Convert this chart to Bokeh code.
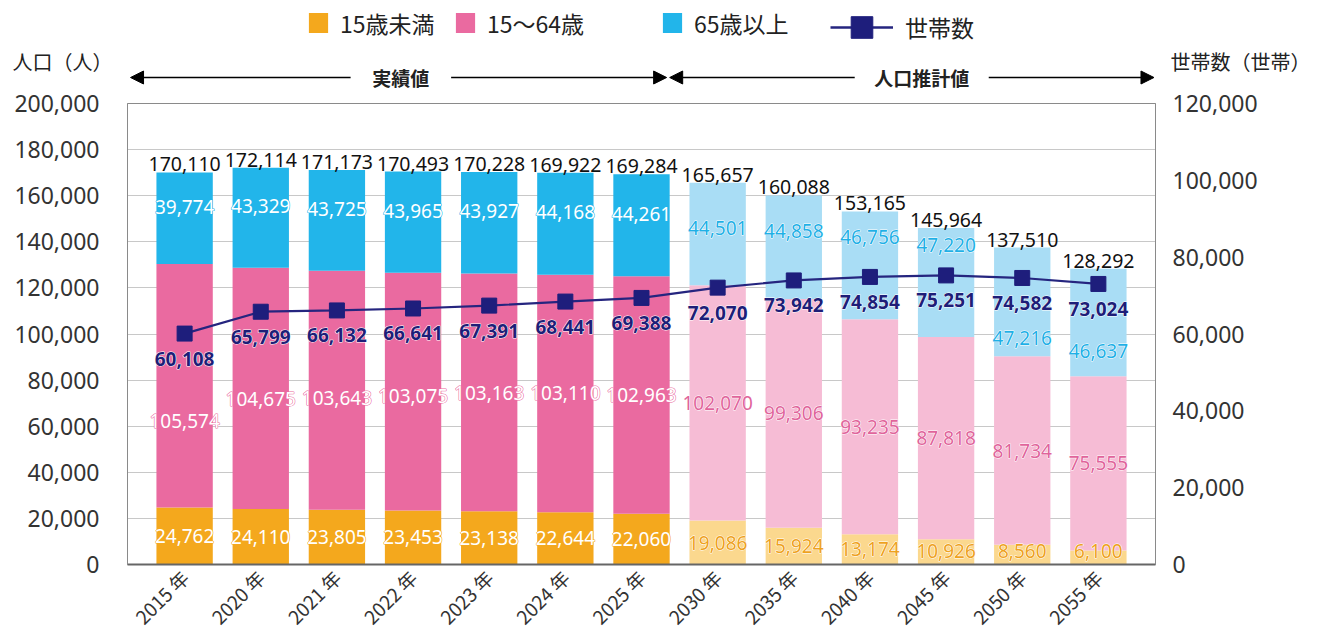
import math
from bokeh.plotting import figure
from bokeh.layouts import column
from bokeh.models import (Range1d, LinearAxis, FixedTicker, NumeralTickFormatter,
                          ColumnDataSource, Label, Arrow, NormalHead, Legend, LegendItem)
from bokeh.core.properties import value
from bokeh.embed import file_html
from bokeh.resources import INLINE

# ---------------- data ----------------
years = ["2015", "2020", "2021", "2022", "2023", "2024", "2025",
         "2030", "2035", "2040", "2045", "2050", "2055"]
under15 = [24762, 24110, 23805, 23453, 23138, 22644, 22060, 19086, 15924, 13174, 10926, 8560, 6100]
age15_64 = [105574, 104675, 103643, 103075, 103163, 103110, 102963, 102070, 99306, 93235, 87818, 81734, 75555]
over65 = [39774, 43329, 43725, 43965, 43927, 44168, 44261, 44501, 44858, 46756, 47220, 47216, 46637]
totals = [170110, 172114, 171173, 170493, 170228, 169922, 169284, 165657, 160088, 153165, 145964, 137510, 128292]
households = [60108, 65799, 66132, 66641, 67391, 68441, 69388, 72070, 73942, 74854, 75251, 74582, 73024]
n_actual = 7  # first 7 are actual values, rest are projections

series_names = ["15歳未満", "15～64歳", "65歳以上", "世帯数"]
left_title = "人口（人）"
right_title = "世帯数（世帯）"
actual_label = "実績値"
proj_label = "人口推計値"

# ---------------- styles ----------------
FONT = "Noto Sans CJK JP"
NUMFONT = "Noto Sans"
C_ACT = ["#F4A81D", "#EA6AA0", "#22B5EA"]
C_PRJ = ["#FBD88E", "#F6BCD5", "#A9DDF5"]
C_PRJ_TXT = ["#EEA21E", "#E0649B", "#1FB0E6"]
NAVY = "#25257F"

N = len(years)
xs = list(range(N))
is_act = [i < n_actual for i in xs]

LMAX = 200000
RMAX = 120000
K = LMAX / RMAX

W = 1325
TOP_H = 91
OVERLAP = 20
MAIN_H = 641 - TOP_H + OVERLAP
BL, BR, BT, BB = 127, 170, 12 + OVERLAP, 76
X0, X1 = -0.75, N - 0.25
PX_PER_X = (W - BL - BR) / (X1 - X0)

# =============== main chart ===============
p = figure(width=W, height=MAIN_H, output_backend="svg", toolbar_location=None,
           x_range=Range1d(X0, X1), y_range=Range1d(0, LMAX),
           min_border_left=BL, min_border_right=BR, min_border_top=BT,
           min_border_bottom=BB, tools="")
p.frame_align = False
p.margin = (-OVERLAP, 0, 0, 0)
p.extra_y_ranges = {"hh": Range1d(0, RMAX)}
p.background_fill_color = "white"
p.border_fill_alpha = 0
p.outline_line_color = "#8a8a8a"
p.outline_line_width = 1

# bars
b0 = [0] * N
b1 = under15[:]
b2 = [a + b for a, b in zip(under15, age15_64)]
b3 = [a + b for a, b in zip(b2, over65)]
segs = [(b0, b1), (b1, b2), (b2, b3)]
for k, (lo, hi) in enumerate(segs):
    cols = [C_ACT[k] if a else C_PRJ[k] for a in is_act]
    src = ColumnDataSource(dict(x=xs, bottom=lo, top=hi, color=cols))
    p.vbar(x="x", bottom="bottom", top="top", width=0.74, fill_color="color",
           line_color=None, source=src)

# household line
hsrc = ColumnDataSource(dict(x=xs, y=households))
p.line("x", "y", source=hsrc, y_range_name="hh", line_color=NAVY, line_width=2.2)
p.scatter("x", "y", source=hsrc, y_range_name="hh", marker="square", size=15,
          fill_color="#1E1E7C", line_color="#1E1E7C")

# label positions (derived from data)
fmt = lambda v: f"{v:,}"
hh_left = [h * K for h in households]

lab_x, lab_y, lab_t, lab_c, lab_o = [], [], [], [], []
for i in xs:
    act = is_act[i]
    lab_x.append(i); lab_y.append(max(under15[i] / 2, 6000)); lab_t.append(fmt(under15[i]))
    lab_c.append("white" if act else C_PRJ_TXT[0]); lab_o.append(C_ACT[0] if act else "white")
    mid = b1[i] + age15_64[i] / 2
    lab_x.append(i); lab_y.append(min(mid, hh_left[i] - 38000)); lab_t.append(fmt(age15_64[i]))
    lab_c.append("white" if act else C_PRJ_TXT[1]); lab_o.append(C_ACT[1] if act else "white")
    m = hh_left[i]
    lo, hi = b2[i], b3[i]
    if m < lo:
        yy = (max(lo, m + 6000) + hi) / 2 + (5000 if act else 0)
    else:
        above = hi - (m + 6000)
        below = (m - 18000) - lo
        yy = (m + 6000 + hi) / 2 if above >= below else (lo + m - 18000) / 2
    lab_x.append(i); lab_y.append(yy); lab_t.append(fmt(over65[i]))
    lab_c.append("white" if act else C_PRJ_TXT[2]); lab_o.append(C_ACT[2] if act else "white")

lsrc = ColumnDataSource(dict(x=lab_x, y=lab_y, t=lab_t, c=lab_c, o=lab_o))
# halo layer, then text layer
p.text("x", "y", text="t", source=lsrc, text_color="o", text_outline_color="o",
       text_font=value(NUMFONT), text_font_size="19px", text_align="center",
       text_baseline="middle")
p.text("x", "y", text="t", source=lsrc, text_color="c",
       text_font=value(NUMFONT), text_font_size="19px", text_align="center",
       text_baseline="middle")

tsrc = ColumnDataSource(dict(x=xs, y=b3, t=[fmt(v) for v in totals]))
p.text("x", "y", text="t", source=tsrc, text_color="#111111",
       text_font=value(NUMFONT), text_font_size="19.5px", text_align="center",
       text_baseline="bottom", y_offset=-1)

hlsrc = ColumnDataSource(dict(x=xs, y=[h - 6500 for h in households], t=[fmt(v) for v in households]))
p.text("x", "y", text="t", source=hlsrc, y_range_name="hh", text_color="white",
       text_outline_color="white", text_font=value(NUMFONT), text_font_size="19px",
       text_font_style="bold", text_align="center", text_baseline="middle")
p.text("x", "y", text="t", source=hlsrc, y_range_name="hh", text_color="#1E1E78",
       text_font=value(NUMFONT), text_font_size="19px",
       text_font_style="bold", text_align="center", text_baseline="middle")

# axes
p.xgrid.grid_line_color = None
p.ygrid.grid_line_color = "#c8c8c8"
p.ygrid.grid_line_width = 1
p.ygrid.ticker = FixedTicker(ticks=list(range(0, LMAX + 1, 20000)))

yl = p.yaxis[0]
yl.ticker = FixedTicker(ticks=list(range(0, LMAX + 1, 20000)))
yl.formatter = NumeralTickFormatter(format="0,0")
yl.major_tick_line_color = None
yl.minor_tick_line_color = None
yl.axis_line_color = "#8a8a8a"
yl.major_label_standoff = 22
yl.major_label_text_font = "Noto Sans"
yl.major_label_text_font_size = "23px"
yl.major_label_text_color = "#333333"

yr = LinearAxis(y_range_name="hh", ticker=FixedTicker(ticks=list(range(0, RMAX + 1, 20000))),
                formatter=NumeralTickFormatter(format="0,0"))
yr.major_tick_line_color = None
yr.minor_tick_line_color = None
yr.axis_line_color = "#8a8a8a"
yr.major_label_standoff = 11
yr.major_label_text_font = "Noto Sans"
yr.major_label_text_font_size = "23px"
yr.major_label_text_color = "#333333"
p.add_layout(yr, "right")

xa = p.xaxis[0]
xa.ticker = FixedTicker(ticks=xs)
xa.major_label_overrides = {i: f"{y} 年" for i, y in enumerate(years)}
xa.major_label_orientation = math.pi / 4
xa.major_tick_line_color = None
xa.minor_tick_line_color = None
xa.axis_line_color = "#666666"
xa.axis_line_width = 2
xa.major_label_standoff = 3
xa.major_label_text_font = FONT
xa.major_label_text_font_size = "19px"
xa.major_label_text_color = "#333333"

# =============== header (legend, arrows, axis titles) ===============
tx0 = X0 - BL / PX_PER_X
tx1 = X1 + BR / PX_PER_X
top = figure(width=W, height=TOP_H, output_backend="svg", toolbar_location=None,
             x_range=Range1d(tx0, tx1), y_range=Range1d(0, TOP_H),
             min_border_left=0, min_border_right=0, min_border_top=0, min_border_bottom=0,
             x_axis_location=None, y_axis_location=None, tools="")
top.frame_align = False
top.outline_line_color = None
top.grid.grid_line_color = None

def px2x(px):
    return tx0 + px / PX_PER_X

def px2y(py):
    return TOP_H - py

# legend proxy renderers: one point far outside the visible range, only their style is used
far = [-1000]
leg_r = []
for k in range(3):
    leg_r.append(top.vbar(x=far, top=far, width=0.5, fill_color=C_ACT[k], line_color=None))
lr = top.line(x=far, y=far, line_color=NAVY, line_width=2.5)
sr = top.scatter(x=far, y=far, marker="square", size=26, fill_color="#1E1E7C", line_color="#1E1E7C")

def mk_legend(label, renderers, px, cy, gw, gh, standoff):
    lg = Legend(items=[LegendItem(label=label, renderers=renderers)],
                location=(px, TOP_H - cy - gh / 2), orientation="horizontal", glyph_width=gw,
                glyph_height=gh, label_standoff=standoff, padding=0, margin=0,
                border_line_color=None, background_fill_alpha=0, label_text_font=FONT,
                label_text_font_size="23px", label_text_color="#222222",
                label_height=24)
    top.add_layout(lg, "center")

mk_legend(series_names[0], [leg_r[0]], 306, 27, 24, 25, 10)
mk_legend(series_names[1], [leg_r[1]], 453, 27, 24, 25, 10)
mk_legend(series_names[2], [leg_r[2]], 660, 27, 24, 25, 10)
mk_legend(series_names[3], [lr, sr], 830, 27, 63, 54, 12)

# axis titles
top.add_layout(Label(x=px2x(12), y=px2y(61), text=left_title, text_font=FONT,
                     text_font_size="20px", text_color="#222222", text_baseline="middle"))
top.add_layout(Label(x=px2x(1170), y=px2y(61), text=right_title, text_font=FONT,
                     text_font_size="20px", text_color="#222222", text_baseline="middle"))

# period arrows (x in category units, sharing the main chart's scale)
ya = px2y(77)
def head():
    return NormalHead(size=13, fill_color="black", line_color="black")
for (xl, xt, xr, txt, half) in [(-0.71, 2.84, 6.33, actual_label, 0.66),
                                (6.37, 9.68, 12.73, proj_label, 0.88)]:
    top.add_layout(Arrow(end=head(), x_start=px2x(BL) + (xt - half - X0), y_start=ya,
                         x_end=px2x(BL) + (xl - X0), y_end=ya, line_color="black", line_width=1.3))
    top.add_layout(Arrow(end=head(), x_start=px2x(BL) + (xt + half - X0), y_start=ya,
                         x_end=px2x(BL) + (xr - X0), y_end=ya, line_color="black", line_width=1.3))
    top.add_layout(Label(x=px2x(BL) + (xt - X0), y=ya, text=txt, text_font=FONT,
                         text_font_size="19px", text_font_style="bold", text_color="#222222",
                         text_align="center", text_baseline="middle"))

layout = column(top, p, spacing=0)
open("out.html", "w").write(file_html(layout, INLINE))
